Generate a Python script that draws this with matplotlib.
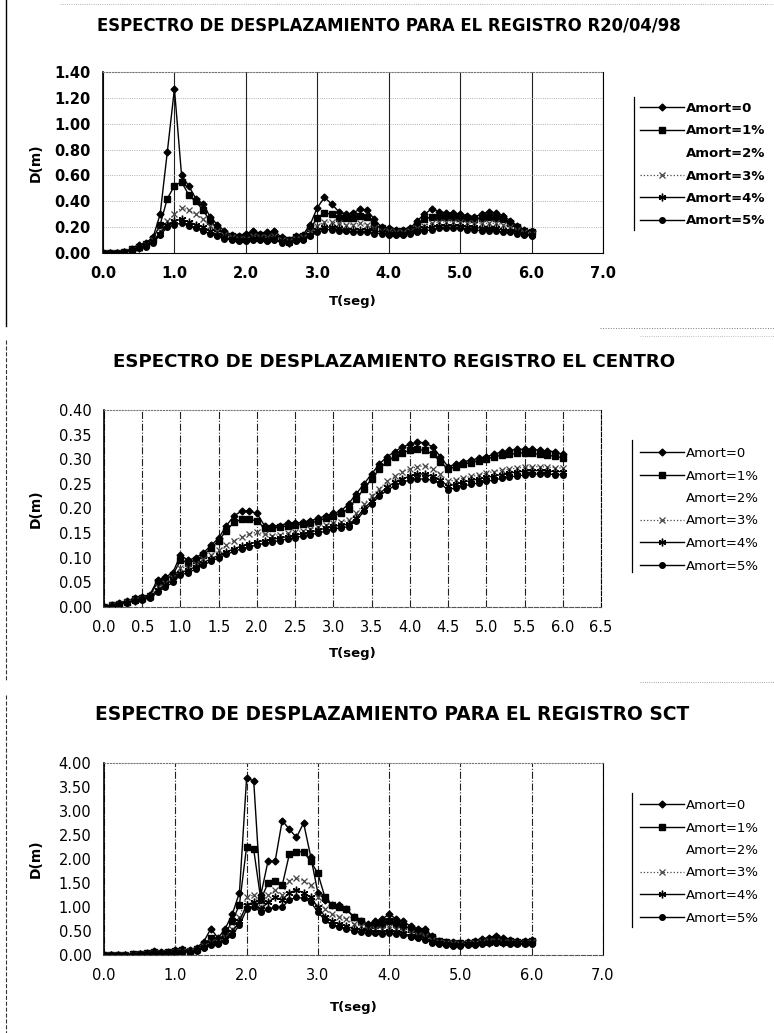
import numpy as np
import matplotlib.pyplot as plt
from matplotlib.lines import Line2D

plt.rcParams['font.family'] = ['DejaVu Sans']

###############################################################################
#############################        DATA        ##############################
###############################################################################

# periods (seg), same grid for the three records
T = [0.0, 0.1, 0.2, 0.3, 0.4, 0.5, 0.6, 0.7, 0.8, 0.9,
     1.0, 1.1, 1.2, 1.3, 1.4, 1.5, 1.6, 1.7, 1.8, 1.9,
     2.0, 2.1, 2.2, 2.3, 2.4, 2.5, 2.6, 2.7, 2.8, 2.9,
     3.0, 3.1, 3.2, 3.3, 3.4, 3.5, 3.6, 3.7, 3.8, 3.9,
     4.0, 4.1, 4.2, 4.3, 4.4, 4.5, 4.6, 4.7, 4.8, 4.9,
     5.0, 5.1, 5.2, 5.3, 5.4, 5.5, 5.6, 5.7, 5.8, 5.9,
     6.0]

labels = ["Amort=0", "Amort=1%", "Amort=2%", "Amort=3%", "Amort=4%", "Amort=5%"]

# R20/04/98
r20_a0 = [0.00, 0.00, 0.00, 0.01, 0.03, 0.06, 0.08, 0.12, 0.30, 0.78,
          1.27, 0.60, 0.52, 0.42, 0.38, 0.28, 0.22, 0.17, 0.14, 0.13,
          0.15, 0.17, 0.15, 0.16, 0.17, 0.12, 0.10, 0.13, 0.14, 0.22,
          0.35, 0.43, 0.38, 0.32, 0.30, 0.31, 0.34, 0.33, 0.26, 0.20,
          0.19, 0.18, 0.18, 0.19, 0.25, 0.30, 0.34, 0.32, 0.31, 0.31,
          0.30, 0.29, 0.28, 0.30, 0.32, 0.31, 0.29, 0.25, 0.21, 0.18,
          0.17]
r20_a1 = [0.00, 0.00, 0.00, 0.01, 0.03, 0.05, 0.07, 0.11, 0.22, 0.42,
          0.52, 0.55, 0.45, 0.40, 0.33, 0.25, 0.19, 0.15, 0.13, 0.12,
          0.13, 0.15, 0.14, 0.14, 0.15, 0.11, 0.10, 0.12, 0.13, 0.19,
          0.27, 0.31, 0.30, 0.27, 0.27, 0.27, 0.29, 0.28, 0.22, 0.19,
          0.18, 0.17, 0.17, 0.18, 0.22, 0.26, 0.28, 0.28, 0.28, 0.28,
          0.27, 0.27, 0.26, 0.27, 0.28, 0.27, 0.26, 0.23, 0.20, 0.17,
          0.16]
r20_a2 = [0.00, 0.00, 0.00, 0.01, 0.02, 0.05, 0.06, 0.10, 0.19, 0.32,
          0.40, 0.44, 0.39, 0.35, 0.29, 0.23, 0.18, 0.14, 0.12, 0.11,
          0.12, 0.14, 0.13, 0.13, 0.14, 0.10, 0.09, 0.11, 0.12, 0.17,
          0.24, 0.27, 0.27, 0.25, 0.24, 0.24, 0.26, 0.25, 0.20, 0.18,
          0.17, 0.16, 0.16, 0.17, 0.20, 0.23, 0.25, 0.26, 0.26, 0.26,
          0.25, 0.25, 0.24, 0.25, 0.25, 0.25, 0.24, 0.22, 0.19, 0.16,
          0.15]
r20_a3 = [0.00, 0.00, 0.00, 0.01, 0.02, 0.04, 0.06, 0.10, 0.17, 0.25,
          0.30, 0.35, 0.33, 0.30, 0.26, 0.21, 0.17, 0.14, 0.12, 0.11,
          0.11, 0.13, 0.12, 0.12, 0.13, 0.10, 0.09, 0.11, 0.12, 0.16,
          0.21, 0.24, 0.24, 0.23, 0.22, 0.22, 0.23, 0.22, 0.19, 0.17,
          0.17, 0.16, 0.16, 0.17, 0.19, 0.21, 0.23, 0.24, 0.24, 0.24,
          0.24, 0.23, 0.23, 0.23, 0.23, 0.23, 0.22, 0.20, 0.18, 0.16,
          0.15]
r20_a4 = [0.00, 0.00, 0.00, 0.01, 0.02, 0.04, 0.06, 0.09, 0.15, 0.22,
          0.25, 0.26, 0.24, 0.22, 0.20, 0.17, 0.14, 0.12, 0.11, 0.10,
          0.10, 0.11, 0.11, 0.10, 0.11, 0.09, 0.08, 0.10, 0.11, 0.14,
          0.18, 0.20, 0.20, 0.19, 0.18, 0.18, 0.18, 0.18, 0.17, 0.16,
          0.15, 0.15, 0.15, 0.16, 0.17, 0.19, 0.20, 0.21, 0.21, 0.21,
          0.21, 0.20, 0.20, 0.19, 0.19, 0.19, 0.18, 0.17, 0.16, 0.15,
          0.14]
r20_a5 = [0.00, 0.00, 0.00, 0.01, 0.02, 0.04, 0.05, 0.08, 0.14, 0.20,
          0.22, 0.23, 0.21, 0.19, 0.17, 0.15, 0.13, 0.11, 0.10, 0.09,
          0.09, 0.10, 0.10, 0.09, 0.10, 0.08, 0.08, 0.09, 0.10, 0.13,
          0.16, 0.18, 0.18, 0.17, 0.17, 0.16, 0.16, 0.16, 0.15, 0.15,
          0.14, 0.14, 0.14, 0.15, 0.16, 0.17, 0.18, 0.19, 0.19, 0.19,
          0.19, 0.18, 0.18, 0.17, 0.17, 0.17, 0.16, 0.16, 0.15, 0.14,
          0.13]

# El Centro
ec_a0 = [0.000, 0.005, 0.008, 0.012, 0.018, 0.020, 0.025, 0.055, 0.060, 0.070,
         0.105, 0.095, 0.100, 0.110, 0.125, 0.140, 0.165, 0.185, 0.195, 0.195,
         0.190, 0.165, 0.165, 0.165, 0.170, 0.170, 0.172, 0.175, 0.180, 0.185,
         0.190, 0.195, 0.210, 0.230, 0.250, 0.270, 0.290, 0.305, 0.315, 0.325,
         0.330, 0.335, 0.333, 0.325, 0.305, 0.285, 0.290, 0.295, 0.298, 0.302,
         0.305, 0.310, 0.315, 0.318, 0.320, 0.320, 0.320, 0.318, 0.317, 0.315,
         0.310]
ec_a1 = [0.000, 0.004, 0.007, 0.011, 0.016, 0.019, 0.023, 0.050, 0.055, 0.065,
         0.095, 0.090, 0.095, 0.105, 0.120, 0.135, 0.155, 0.172, 0.178, 0.178,
         0.175, 0.160, 0.160, 0.162, 0.165, 0.166, 0.168, 0.170, 0.175, 0.180,
         0.185, 0.190, 0.200, 0.220, 0.240, 0.260, 0.280, 0.295, 0.305, 0.313,
         0.318, 0.320, 0.318, 0.310, 0.295, 0.280, 0.285, 0.290, 0.293, 0.297,
         0.300, 0.305, 0.308, 0.310, 0.312, 0.313, 0.312, 0.310, 0.308, 0.306,
         0.303]
ec_a2 = [0.000, 0.004, 0.007, 0.010, 0.015, 0.018, 0.022, 0.045, 0.050, 0.060,
         0.085, 0.085, 0.090, 0.100, 0.112, 0.125, 0.140, 0.155, 0.160, 0.162,
         0.162, 0.155, 0.152, 0.155, 0.158, 0.160, 0.162, 0.165, 0.168, 0.172,
         0.178, 0.180, 0.188, 0.205, 0.225, 0.242, 0.260, 0.275, 0.285, 0.294,
         0.300, 0.302, 0.302, 0.295, 0.282, 0.268, 0.272, 0.276, 0.280, 0.283,
         0.286, 0.290, 0.293, 0.295, 0.297, 0.298, 0.298, 0.297, 0.296, 0.295,
         0.293]
ec_a3 = [0.000, 0.004, 0.006, 0.010, 0.014, 0.017, 0.021, 0.040, 0.048, 0.058,
         0.080, 0.080, 0.088, 0.097, 0.105, 0.115, 0.125, 0.135, 0.142, 0.148,
         0.152, 0.148, 0.145, 0.147, 0.150, 0.152, 0.155, 0.158, 0.162, 0.166,
         0.170, 0.172, 0.176, 0.190, 0.210, 0.225, 0.240, 0.255, 0.265, 0.275,
         0.280, 0.285, 0.287, 0.280, 0.270, 0.255, 0.258, 0.262, 0.265, 0.268,
         0.272, 0.275, 0.278, 0.280, 0.282, 0.284, 0.285, 0.285, 0.284, 0.283,
         0.282]
ec_a4 = [0.000, 0.003, 0.006, 0.009, 0.013, 0.016, 0.020, 0.035, 0.045, 0.055,
         0.070, 0.075, 0.082, 0.090, 0.098, 0.105, 0.112, 0.118, 0.124, 0.128,
         0.132, 0.135, 0.138, 0.140, 0.143, 0.146, 0.149, 0.152, 0.156, 0.160,
         0.164, 0.166, 0.168, 0.180, 0.200, 0.215, 0.230, 0.243, 0.253, 0.260,
         0.266, 0.270, 0.270, 0.265, 0.258, 0.245, 0.250, 0.254, 0.257, 0.260,
         0.263, 0.266, 0.269, 0.272, 0.274, 0.276, 0.277, 0.277, 0.276, 0.275,
         0.275]
ec_a5 = [0.000, 0.003, 0.005, 0.009, 0.012, 0.015, 0.018, 0.030, 0.040, 0.050,
         0.065, 0.070, 0.077, 0.085, 0.093, 0.100, 0.107, 0.113, 0.118, 0.122,
         0.126, 0.129, 0.132, 0.135, 0.138, 0.141, 0.144, 0.147, 0.150, 0.154,
         0.158, 0.161, 0.163, 0.175, 0.195, 0.210, 0.225, 0.237, 0.246, 0.253,
         0.258, 0.260, 0.260, 0.257, 0.250, 0.238, 0.242, 0.246, 0.249, 0.252,
         0.255, 0.258, 0.261, 0.264, 0.266, 0.268, 0.270, 0.270, 0.270, 0.269,
         0.268]

# SCT
sct_a0 = [0.00, 0.00, 0.00, 0.01, 0.02, 0.03, 0.05, 0.08, 0.06, 0.07,
          0.10, 0.12, 0.10, 0.15, 0.28, 0.55, 0.35, 0.55, 0.85, 1.30,
          3.68, 3.63, 1.25, 1.95, 1.95, 2.80, 2.62, 2.45, 2.75, 2.05,
          1.30, 1.15, 1.05, 1.05, 0.95, 0.80, 0.70, 0.65, 0.70, 0.75,
          0.85, 0.75, 0.70, 0.60, 0.55, 0.55, 0.40, 0.30, 0.28, 0.27,
          0.26, 0.28, 0.30, 0.33, 0.36, 0.40, 0.35, 0.32, 0.30, 0.30,
          0.32]
sct_a1 = [0.00, 0.00, 0.00, 0.01, 0.02, 0.03, 0.04, 0.06, 0.05, 0.06,
          0.08, 0.10, 0.09, 0.13, 0.22, 0.35, 0.30, 0.45, 0.70, 1.05,
          2.25, 2.20, 1.15, 1.50, 1.55, 1.45, 2.10, 2.15, 2.15, 1.95,
          1.70, 1.20, 1.05, 1.00, 0.95, 0.80, 0.70, 0.60, 0.62, 0.65,
          0.70, 0.65, 0.60, 0.55, 0.50, 0.48, 0.38, 0.30, 0.27, 0.26,
          0.25, 0.26, 0.28, 0.30, 0.32, 0.35, 0.32, 0.30, 0.28, 0.28,
          0.30]
sct_a2 = [0.00, 0.00, 0.00, 0.01, 0.02, 0.03, 0.04, 0.05, 0.05, 0.06,
          0.08, 0.09, 0.09, 0.12, 0.20, 0.32, 0.30, 0.42, 0.62, 0.92,
          1.70, 1.70, 1.05, 1.40, 1.45, 1.35, 1.80, 1.85, 1.85, 1.70,
          1.45, 1.05, 0.95, 0.90, 0.85, 0.72, 0.65, 0.58, 0.58, 0.60,
          0.65, 0.60, 0.55, 0.50, 0.46, 0.44, 0.35, 0.28, 0.26, 0.25,
          0.24, 0.25, 0.27, 0.28, 0.30, 0.32, 0.30, 0.28, 0.27, 0.27,
          0.28]
sct_a3 = [0.00, 0.00, 0.00, 0.01, 0.01, 0.02, 0.03, 0.05, 0.04, 0.05,
          0.07, 0.08, 0.08, 0.11, 0.18, 0.28, 0.28, 0.38, 0.55, 0.80,
          1.20, 1.25, 1.00, 1.25, 1.35, 1.25, 1.55, 1.60, 1.55, 1.45,
          1.20, 0.95, 0.85, 0.80, 0.75, 0.65, 0.60, 0.55, 0.55, 0.55,
          0.58, 0.55, 0.50, 0.45, 0.42, 0.40, 0.32, 0.27, 0.25, 0.24,
          0.23, 0.24, 0.26, 0.27, 0.29, 0.30, 0.28, 0.27, 0.26, 0.26,
          0.27]
sct_a4 = [0.00, 0.00, 0.00, 0.01, 0.01, 0.02, 0.03, 0.04, 0.04, 0.05,
          0.06, 0.07, 0.07, 0.10, 0.16, 0.24, 0.25, 0.33, 0.48, 0.70,
          1.05, 1.10, 0.95, 1.10, 1.20, 1.15, 1.30, 1.35, 1.30, 1.20,
          1.00, 0.80, 0.70, 0.65, 0.60, 0.55, 0.52, 0.50, 0.48, 0.48,
          0.50, 0.48, 0.45, 0.40, 0.38, 0.35, 0.28, 0.24, 0.22, 0.21,
          0.21, 0.22, 0.23, 0.25, 0.26, 0.27, 0.26, 0.25, 0.24, 0.24,
          0.25]
sct_a5 = [0.00, 0.00, 0.00, 0.01, 0.01, 0.02, 0.03, 0.04, 0.03, 0.04,
          0.05, 0.06, 0.06, 0.09, 0.14, 0.20, 0.22, 0.30, 0.42, 0.62,
          0.95, 1.00, 0.90, 0.95, 1.00, 1.00, 1.15, 1.20, 1.18, 1.10,
          0.90, 0.72, 0.62, 0.58, 0.55, 0.50, 0.48, 0.46, 0.45, 0.44,
          0.45, 0.44, 0.42, 0.38, 0.35, 0.32, 0.26, 0.22, 0.20, 0.19,
          0.19, 0.20, 0.21, 0.22, 0.24, 0.25, 0.24, 0.23, 0.22, 0.22,
          0.23]

titles = ["ESPECTRO DE DESPLAZAMIENTO PARA EL REGISTRO R20/04/98",
          "ESPECTRO DE DESPLAZAMIENTO REGISTRO EL CENTRO",
          "ESPECTRO DE DESPLAZAMIENTO PARA EL REGISTRO SCT"]

yticks_r20 = [0.0, 0.2, 0.4, 0.6, 0.8, 1.0, 1.2, 1.4]
yticks_ec = [0.0, 0.05, 0.10, 0.15, 0.20, 0.25, 0.30, 0.35, 0.40]
yticks_sct = [0.0, 0.5, 1.0, 1.5, 2.0, 2.5, 3.0, 3.5, 4.0]
xticks_r20 = [0.0, 1.0, 2.0, 3.0, 4.0, 5.0, 6.0, 7.0]
xticks_ec = [0.0, 0.5, 1.0, 1.5, 2.0, 2.5, 3.0, 3.5, 4.0, 4.5, 5.0, 5.5, 6.0, 6.5]
xticks_sct = [0.0, 1.0, 2.0, 3.0, 4.0, 5.0, 6.0, 7.0]

###############################################################################
#############################        LAYOUT        ############################
###############################################################################
W, H = 774, 1033
fig = plt.figure(figsize=(W / 100, H / 100), dpi=100)


def fx(px):
    return px / W


def fy(py):
    return 1 - py / H


styles = [
    dict(color='k', lw=1.0, marker='D', ms=3.5, mfc='k', mec='k'),
    dict(color='k', lw=1.0, marker='s', ms=4, mfc='k', mec='k'),
    dict(linestyle='none', marker='none'),          # Amort=2% is not visible in the scan
    dict(color='#444444', lw=0.9, ls=':', marker='x', ms=4, mew=0.9),
    dict(color='k', lw=1.0, marker=(6, 2, 0), ms=5.5, mew=1.0),
    dict(color='k', lw=1.0, marker='o', ms=4, mfc='k', mec='k'),
]

# per chart: axes box (px), title centre/width, legend top, legend line, bold text
charts = [
    dict(series=[r20_a0, r20_a1, r20_a2, r20_a3, r20_a4, r20_a5],
         box=(103, 72, 603, 253), xlim=(0, 7), ylim=(0, 1.4),
         xticks=xticks_r20, yticks=yticks_r20, xfmt="{:.1f}",
         title_xy=(389, 26), title_w=584, xlabel_y=301,
         leg_top=102, leg_line=(634, 97, 230), bold=True,
         xgrid_ls='-', right_ls='-', bottom_ls='-', hgrid=True),
    dict(series=[ec_a0, ec_a1, ec_a2, ec_a3, ec_a4, ec_a5],
         box=(104, 410, 601, 607), xlim=(0, 6.5), ylim=(0, 0.4),
         xticks=xticks_ec, yticks=yticks_ec, xfmt="{:.1f}",
         title_xy=(394, 362), title_w=562, xlabel_y=653,
         leg_top=447, leg_line=(632, 440, 572), bold=False,
         xgrid_ls='-.', right_ls='--', bottom_ls='--', hgrid=False),
    dict(series=[sct_a0, sct_a1, sct_a2, sct_a3, sct_a4, sct_a5],
         box=(104, 763, 603, 955), xlim=(0, 7), ylim=(0, 4.0),
         xticks=xticks_sct, yticks=yticks_sct, xfmt="{:.1f}",
         title_xy=(392, 714), title_w=591, xlabel_y=1008,
         leg_top=799, leg_line=(632, 793, 927), bold=False,
         xgrid_ls='-.', right_ls='-', bottom_ls='--', hgrid=False),
]

title_texts = []
for c, title in zip(charts, titles):
    x0, y0, x1, y1 = c['box']
    ax = fig.add_axes([fx(x0), fy(y1), (x1 - x0) / W, (y1 - y0) / H])
    for lab, vals, st in zip(labels, c['series'], styles):
        ax.plot(T, vals, label=lab, **st)

    ax.set_xlim(*c['xlim'])
    ax.set_ylim(*c['ylim'])
    ax.set_xticks(c['xticks'])
    ax.set_xticklabels([c['xfmt'].format(v) for v in c['xticks']])
    ax.set_yticks(c['yticks'])
    ax.set_yticklabels(["{:.2f}".format(v) for v in c['yticks']])
    wt = 'bold' if c['bold'] else 'normal'
    ax.tick_params(length=0, labelsize=10.5, pad=9)
    for t in ax.get_xticklabels() + ax.get_yticklabels():
        t.set_fontweight(wt)

    # Excel style gridlines (scanned)
    ax.xaxis.grid(True, color='#222222', lw=0.8, ls=c['xgrid_ls'])
    if c['hgrid']:
        ax.yaxis.grid(True, color='#999999', lw=0.6, ls=':')
    ax.set_axisbelow(True)
    ax.spines['left'].set_linewidth(1.2)
    ax.spines['top'].set_linestyle(':')
    ax.spines['top'].set_color('#777777')
    ax.spines['right'].set_linestyle(c['right_ls'])
    ax.spines['right'].set_linewidth(0.8)
    ax.spines['bottom'].set_linestyle(c['bottom_ls'])
    ax.spines['bottom'].set_color('k' if c['bottom_ls'] == '-' else '#555555')

    leg = ax.legend(loc='upper left', bbox_to_anchor=(fx(640), fy(c['leg_top'])),
                    bbox_transform=fig.transFigure, frameon=False,
                    fontsize=9.5, handlelength=3.3, handletextpad=0.2,
                    labelspacing=0.72, borderpad=0, borderaxespad=0)
    for t in leg.get_texts():
        t.set_fontweight(wt)
    lx, ly0, ly1 = c['leg_line']
    fig.add_artist(Line2D([fx(lx), fx(lx)], [fy(ly0), fy(ly1)], color='k', lw=0.9))

    tt = fig.text(fx(c['title_xy'][0]), fy(c['title_xy'][1]), title,
                  ha='center', va='center', fontsize=11, fontweight='bold')
    title_texts.append((tt, c['title_w']))
    fig.text(fx(36), fy((y0 + y1) / 2), "D(m)", rotation=90, ha='center', va='center',
             fontsize=10, fontweight='bold')
    fig.text(fx((x0 + x1) / 2), fy(c['xlabel_y']), "T(seg)", ha='center', va='center',
             fontsize=9.5, fontweight='bold')

# stretch titles to the width they have in the scan
fig.canvas.draw()
renderer = fig.canvas.get_renderer()
for tt, target in title_texts:
    w = tt.get_window_extent(renderer).width
    tt.set_fontsize(tt.get_fontsize() * target / w)

# page borders left by the scanned Excel chart areas
fig.add_artist(Line2D([fx(6), fx(6)], [fy(0), fy(326)], color='k', lw=1.0))
fig.add_artist(Line2D([fx(6), fx(6)], [fy(340), fy(680)], color='#333333', lw=0.8, ls='--'))
fig.add_artist(Line2D([fx(6), fx(6)], [fy(695), fy(1033)], color='#333333', lw=0.8, ls='--'))
fig.add_artist(Line2D([fx(60), fx(774)], [fy(4), fy(4)], color='#999999', lw=0.6, ls=':'))
fig.add_artist(Line2D([fx(600), fx(774)], [fy(328), fy(328)], color='#777777', lw=0.7, ls=':'))
fig.add_artist(Line2D([fx(640), fx(774)], [fy(336), fy(336)], color='#aaaaaa', lw=0.6, ls=':'))
fig.add_artist(Line2D([fx(640), fx(774)], [fy(682), fy(682)], color='#888888', lw=0.6, ls=':'))

fig.savefig("out.png", dpi=100)
